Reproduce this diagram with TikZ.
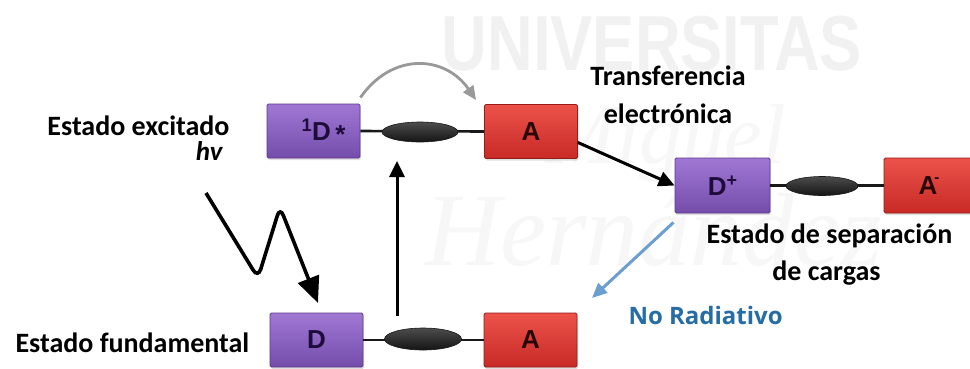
\documentclass[tikz,border=0pt]{standalone}
\usepackage{fontspec}
\setmainfont{Carlito}
\newfontfamily\boxfont{Liberation Sans}
\newfontfamily\nrfont{Open Sans}
\newfontfamily\wmserif{Liberation Serif}
\usetikzlibrary{arrows.meta,shapes.geometric,shadows}

\definecolor{purpTop}{RGB}{160,120,212}
\definecolor{purpBot}{RGB}{116,76,170}
\definecolor{purpEdge}{RGB}{92,58,140}
\definecolor{redTop}{RGB}{236,82,74}
\definecolor{redBot}{RGB}{200,42,38}
\definecolor{redEdge}{RGB}{150,28,26}
\definecolor{dtext}{RGB}{30,12,60}
\definecolor{atext}{RGB}{40,6,6}
\definecolor{nrblue}{RGB}{38,108,165}
\definecolor{nrarrow}{RGB}{108,158,208}
\definecolor{wmgray}{RGB}{241,241,241}
\definecolor{wmlight}{RGB}{247,247,247}

\begin{document}
\begin{tikzpicture}[x=1pt,y=-1pt,
  molbox/.style={rectangle, minimum width=93pt, minimum height=54pt, inner sep=0pt,
    rounded corners=1.5pt, line width=0.8pt,
    drop shadow={shadow xshift=1pt, shadow yshift=-2pt, opacity=0.25},
    font=\boxfont\bfseries\fontsize{26}{28}\selectfont},
  donor/.style={molbox, draw=purpEdge, top color=purpTop, bottom color=purpBot, text=dtext},
  acceptor/.style={molbox, draw=redEdge, top color=redTop, bottom color=redBot, text=atext},
  bond/.style={line width=2.6pt, black!90},
  blob/.style={ellipse, inner sep=0pt, minimum width=76pt, minimum height=20pt,
    top color=black!70, bottom color=black!92, draw=black!90, line width=0.6pt},
  lbl/.style={font=\bfseries\fontsize{28}{32}\selectfont, text=black},
  arr/.style={line width=3pt, black, -{Triangle[length=16pt,width=15pt]}},
  watermark/.style={inner sep=0pt},
]
\useasboundingbox (0,0) rectangle (970,368);
\fill[white] (0,0) rectangle (970,368);

% faint background lettering
\node[watermark, text=wmgray, anchor=base, xscale=0.81,
  font=\boxfont\bfseries\fontsize{78}{80}\selectfont] (wm1) at (652,70) {UNIVERSITAS};
\node[watermark, text=wmlight, anchor=base west,
  font=\wmserif\itshape\fontsize{85}{90}\selectfont] (wm2) at (545,163) {Miguel};
\node[watermark, text=wmlight, anchor=base west,
  font=\wmserif\itshape\fontsize{104}{110}\selectfont] (wm3) at (425,265) {Hernández};

% excited state
\node[donor] (d1) at (313.5,131) {\hspace*{20pt}\textsuperscript{1}D\,\raisebox{-3pt}{*}};
\node[acceptor] (a1) at (531,131.5) {A};
\draw[bond] (d1.east) -- (a1.west);
\node[blob] (b1) at (420,132) {};

% charge separated state
\node[donor, minimum width=95pt, minimum height=55pt] (dp) at (722.5,185.5)
  {D\raisebox{9pt}{\fontsize{18}{18}\selectfont +}};
\node[acceptor, minimum width=90pt, minimum height=55pt] (am) at (929,185.5)
  {A\kern-3pt\raisebox{12pt}{\fontsize{15}{15}\selectfont -}};
\draw[bond] (dp.east) -- (am.west);
\node[blob, minimum width=72pt, minimum height=19pt] (b2) at (822,186) {};

% ground state
\node[donor] (d0) at (316.5,340) {D};
\node[acceptor] (a0) at (530.5,340) {A};
\draw[bond] (d0.east) -- (a0.west);
\node[blob, minimum width=77pt, minimum height=22pt] (b0) at (423,339) {};

% labels
\node[lbl, anchor=base east] (exc) at (233,135) {Estado excitado};
\node[lbl, anchor=base east, font=\bfseries\itshape\fontsize{27}{30}\selectfont] (hv) at (226,160) {hv};
\node[lbl, anchor=base] (tr1) at (668,85) {Transferencia};
\node[lbl, anchor=base] (tr2) at (668,123) {electrónica};
\node[lbl, anchor=base] (sep1) at (829.5,243) {Estado de separación};
\node[lbl, anchor=base] (sep2) at (826.5,280) {de cargas};
\node[lbl, anchor=base west] (fund) at (12,352) {Estado fundamental};
\node[anchor=base west, text=nrblue, font=\nrfont\bfseries\fontsize{24}{28}\selectfont] (nr) at (625,324) {No Radiativo};

% free ends of the connectors
\coordinate (hvstart) at (206,193);
\coordinate (hvtip) at (318,303);
\coordinate (upfoot) at (397,316);
\coordinate (uptip) at (397,161);
\coordinate (nrtip) at (592,298);

% energy transfer arc
\draw[line width=2.8pt, black!40, -{Triangle[length=14pt,width=12pt]}]
  ([yshift=6pt]d1.north east) .. controls (392,52) and (445,55) .. ([xshift=-8pt,yshift=4pt]a1.north west);

% photon absorption
\draw[line width=3.6pt, black, rounded corners=9pt, -{Triangle[length=26pt,width=22pt]}]
  (hvstart) -- (258,278) -- (280,207) -- (hvtip);

% return to the excited state
\draw[arr] (upfoot) -- (uptip);

% electron transfer
\draw[arr] ([yshift=-11pt]a1.east) -- (dp.west);

% non-radiative decay
\draw[line width=3pt, nrarrow, -{Triangle[length=15pt,width=13pt]}]
  ([xshift=-49pt,yshift=-9pt]dp.south) -- (nrtip);
\end{tikzpicture}
\end{document}
